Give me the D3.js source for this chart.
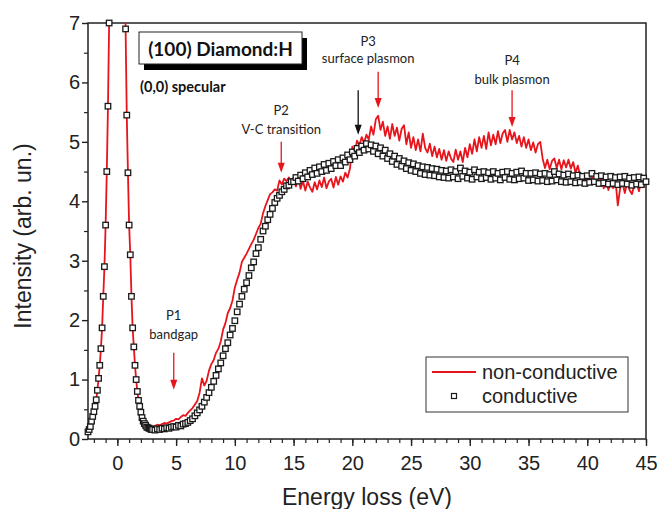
<!DOCTYPE html>
<html>
<head>
<meta charset="utf-8">
<script src="https://cdn.jsdelivr.net/npm/d3@7"></script>
<style>
  body { margin: 0; background: #fff; }
  svg { display: block; }
</style>
</head>
<body>
<div id="chart"></div>
<script>
// energy grid: fine steps over the elastic peak, coarser afterwards
const peakStart = -2.5, peakStep = 0.1   // -2.5 .. 2.9 eV
const tailStart = 3.0, tailStep = 0.2    // 3.0 .. 45.0 eV

// conductive (squares)
const condPeak = [
    0.12, 0.16, 0.21, 0.30, 0.38, 0.46, 0.55, 0.66, 0.82, 1.02,
    1.24, 1.52, 1.87, 2.40, 2.90, 3.60, 4.50, 5.60, 7.00, 9.2,
    12.5, 17, 22, 27, 31, 33, 31, 27, 21, 15.5,
    11.5, 8.6, 6.9, 5.45, 4.48, 3.60, 3.10, 2.40, 1.87, 1.55,
    1.24, 1.00, 0.80, 0.65, 0.55, 0.45, 0.36, 0.30, 0.26, 0.23,
    0.20, 0.19, 0.18, 0.17, 0.16
]
const condTail = [
    0.16, 0.15, 0.17, 0.16, 0.18, 0.17, 0.19, 0.18, 0.20, 0.21,
    0.20, 0.23, 0.22, 0.25, 0.26, 0.28, 0.31, 0.34, 0.39, 0.44,
    0.49, 0.55, 0.62, 0.70, 0.78, 0.87, 0.97, 1.07, 1.18, 1.28,
    1.40, 1.52, 1.62, 1.75, 1.86, 1.99, 2.14, 2.27, 2.40, 2.52,
    2.63, 2.75, 2.88, 2.98, 3.12, 3.22, 3.36, 3.50, 3.58, 3.69,
    3.78, 3.88, 3.98, 4.05, 4.10, 4.16, 4.20, 4.26, 4.27, 4.33,
    4.33, 4.40, 4.34, 4.44, 4.38, 4.48, 4.41, 4.52, 4.45, 4.56,
    4.47, 4.58, 4.50, 4.62, 4.52, 4.64, 4.55, 4.67, 4.60, 4.70,
    4.60, 4.73, 4.66, 4.78, 4.70, 4.83, 4.76, 4.89, 4.82, 4.93,
    4.86, 4.97, 4.88, 4.95, 4.84, 4.93, 4.80, 4.90, 4.76, 4.86,
    4.72, 4.80, 4.67, 4.76, 4.62, 4.72, 4.59, 4.68, 4.55, 4.65,
    4.52, 4.63, 4.50, 4.60, 4.47, 4.58, 4.45, 4.57, 4.44, 4.55,
    4.43, 4.54, 4.41, 4.52, 4.40, 4.51, 4.39, 4.53, 4.41, 4.50,
    4.38, 4.56, 4.42, 4.51, 4.39, 4.49, 4.37, 4.53, 4.41, 4.49,
    4.38, 4.50, 4.40, 4.48, 4.37, 4.50, 4.39, 4.47, 4.36, 4.49,
    4.40, 4.50, 4.37, 4.47, 4.36, 4.49, 4.38, 4.51, 4.39, 4.47,
    4.35, 4.47, 4.36, 4.48, 4.34, 4.46, 4.35, 4.47, 4.33, 4.45,
    4.34, 4.50, 4.36, 4.46, 4.33, 4.44, 4.32, 4.46, 4.33, 4.43,
    4.31, 4.44, 4.32, 4.42, 4.30, 4.43, 4.32, 4.47, 4.33, 4.42,
    4.30, 4.43, 4.31, 4.41, 4.29, 4.42, 4.30, 4.40, 4.28, 4.41,
    4.30, 4.42, 4.29, 4.39, 4.27, 4.40, 4.29, 4.41, 4.28, 4.39,
    4.33
]

// non-conductive (red line)
const nonCondPeak = [
    0.10, 0.15, 0.21, 0.30, 0.38, 0.46, 0.55, 0.66, 0.82, 1.02,
    1.24, 1.52, 1.87, 2.40, 2.90, 3.60, 4.50, 5.60, 7.00, 9.2,
    12.5, 17, 22, 27, 31, 33, 31, 27, 21, 15.5,
    11.5, 8.6, 6.9, 5.45, 4.48, 3.60, 3.10, 2.40, 1.87, 1.55,
    1.24, 1.00, 0.80, 0.65, 0.55, 0.45, 0.37, 0.31, 0.27, 0.25,
    0.23, 0.22, 0.21, 0.21, 0.20
]
const nonCondTail = [
    0.21, 0.22, 0.24, 0.23, 0.25, 0.27, 0.26, 0.28, 0.30, 0.31,
    0.34, 0.33, 0.37, 0.40, 0.39, 0.44, 0.48, 0.52, 0.58, 0.64,
    0.78, 1.02, 0.90, 0.98, 1.15, 1.26, 1.33, 1.45, 1.52, 1.64,
    1.84, 1.95, 2.12, 2.20, 2.33, 2.55, 2.68, 2.80, 2.98, 3.05,
    3.12, 3.20, 3.28, 3.35, 3.45, 3.55, 3.62, 3.80, 3.92, 4.02,
    4.12, 4.15, 4.20, 4.18, 4.35, 4.28, 4.38, 4.34, 4.40, 4.32,
    4.40, 4.25, 4.37, 4.21, 4.34, 4.18, 4.33, 4.23, 4.16, 4.32,
    4.20, 4.35, 4.24, 4.40, 4.22, 4.33, 4.38, 4.23, 4.41, 4.28,
    4.42, 4.33, 4.48, 4.40, 4.55, 4.92, 4.82, 5.02, 4.94, 5.08,
    4.98, 5.12, 5.04, 5.26, 5.12, 5.38, 5.44, 5.20, 5.34, 5.10,
    5.26, 5.05, 5.30, 5.10, 5.24, 5.02, 5.22, 5.28, 4.96, 5.16,
    4.90, 5.08, 4.86, 5.04, 4.84, 5.14, 4.90, 4.82, 4.97, 4.76,
    4.92, 4.74, 4.88, 4.70, 4.86, 4.68, 4.84, 4.72, 4.66, 4.87,
    4.70, 4.84, 4.66, 4.90, 4.74, 4.96, 4.80, 5.04, 4.84, 5.08,
    4.90, 5.10, 4.88, 5.16, 4.94, 5.12, 4.96, 5.18, 4.98, 5.14,
    5.20, 5.00, 5.20, 5.04, 5.16, 4.98, 5.10, 4.92, 5.08, 4.90,
    5.04, 4.86, 4.99, 4.82, 4.96, 5.00, 4.72, 4.56, 4.70, 4.54,
    4.68, 4.72, 4.56, 4.70, 4.54, 4.69, 4.57, 4.70, 4.55, 4.66,
    4.48, 4.60, 4.42, 4.46, 4.32, 4.43, 4.29, 4.41, 4.31, 4.43,
    4.26, 4.39, 4.22, 4.35, 4.19, 4.33, 4.22, 4.36, 3.93, 4.22,
    4.30, 4.14, 4.33, 4.19, 4.12, 4.27, 4.31, 4.17, 4.35, 4.24,
    4.30
]

const xTicks = [0, 5, 10, 15, 20, 25, 30, 35, 40, 45]
const yTicks = [0, 1, 2, 3, 4, 5, 6, 7]

// annotations: energy of the arrow, label lines, arrow top/tip intensities
const notes = [
    { e: 4.8, lines: ["P1", "bandgap"], ly: [2.0, 1.68], from: 1.45, to: 0.83, color: "#e8141c" },
    { e: 13.95, lines: ["P2", "V-C transition"], ly: [5.45, 5.14], from: 5.0, to: 4.48, color: "#e8141c" },
    { e: 22.2, lines: [], ly: [], from: 6.18, to: 5.57, color: "#e8141c" },
    { e: 20.5, lines: [], ly: [], from: 5.87, to: 5.12, color: "#111" },
    { e: 33.6, lines: ["P4", "bulk plasmon"], ly: [6.29, 5.98], from: 5.87, to: 5.25, color: "#e8141c" }
]
const p3Label = { e: 21.35, lines: ["P3", "surface plasmon"], ly: [6.62, 6.33] }

const toPoints = (peak, tail) =>
    peak.map((v, i) => ({ e: +(peakStart + i * peakStep).toFixed(2), v: v }))
        .concat(tail.map((v, i) => ({ e: +(tailStart + i * tailStep).toFixed(2), v: v })))

const cond = toPoints(condPeak, condTail)
const nonCond = toPoints(nonCondPeak, nonCondTail)

const width = 657, height = 509
const margin = { top: 23, right: 11, bottom: 70, left: 88 }
const axisFont = "'Liberation Sans', Arial, sans-serif"
const noteFont = "Lato, 'Open Sans', sans-serif"
const red = "#e8141c"

const svg = d3.select("#chart").append("svg")
    .attr("width", width)
    .attr("height", height)
    .attr("viewBox", [0, 0, width, height])

const x = d3.scaleLinear().domain([-2.5, 45]).range([margin.left, width - margin.right])
const y = d3.scaleLinear().domain([0, 7]).range([height - margin.bottom, margin.top])

svg.append("defs").append("clipPath").attr("id", "plot")
    .append("rect")
    .attr("x", margin.left).attr("y", margin.top)
    .attr("width", x.range()[1] - margin.left)
    .attr("height", y.range()[0] - margin.top)

// minor ticks
svg.append("g")
    .attr("transform", `translate(0,${y(0)})`)
    .call(d3.axisBottom(x).tickValues(d3.range(-2, 46, 1)).tickSize(4).tickFormat(""))
    .call(g => g.select(".domain").remove())
    .call(g => g.selectAll("line").attr("stroke", "#222").attr("stroke-width", 1.2))
svg.append("g")
    .attr("transform", `translate(${margin.left},0)`)
    .call(d3.axisLeft(y).tickValues(d3.range(0.5, 7, 1)).tickSize(4).tickFormat(""))
    .call(g => g.select(".domain").remove())
    .call(g => g.selectAll("line").attr("stroke", "#222").attr("stroke-width", 1.2))

// major ticks and labels
svg.append("g")
    .attr("transform", `translate(0,${y(0)})`)
    .call(d3.axisBottom(x).tickValues(xTicks).tickSize(7).tickPadding(10).tickFormat(d3.format("d")))
    .call(g => g.select(".domain").remove())
    .call(g => g.selectAll("line").attr("stroke", "#222").attr("stroke-width", 1.4))
    .call(g => g.selectAll("text").attr("font-family", axisFont).attr("font-size", 20).attr("fill", "#222"))
svg.append("g")
    .attr("transform", `translate(${margin.left},0)`)
    .call(d3.axisLeft(y).tickValues(yTicks).tickSize(6).tickPadding(2).tickFormat(d3.format("d")))
    .call(g => g.select(".domain").remove())
    .call(g => g.selectAll("line").attr("stroke", "#222").attr("stroke-width", 1.4))
    .call(g => g.selectAll("text").attr("font-family", axisFont).attr("font-size", 20).attr("fill", "#222"))

// frame
svg.append("rect")
    .attr("x", margin.left).attr("y", margin.top)
    .attr("width", x.range()[1] - margin.left)
    .attr("height", y.range()[0] - margin.top)
    .attr("fill", "none")
    .attr("stroke", "#222")
    .attr("stroke-width", 1.5)

// axis titles
svg.append("text")
    .attr("x", (margin.left + x.range()[1]) / 2)
    .attr("y", 505)
    .attr("text-anchor", "middle")
    .attr("font-family", axisFont).attr("font-size", 23).attr("fill", "#222")
    .text("Energy loss (eV)")
svg.append("text")
    .attr("transform", `translate(31,${(margin.top + y.range()[0]) / 2 + 5}) rotate(-90)`)
    .attr("text-anchor", "middle")
    .attr("font-family", axisFont).attr("font-size", 23).attr("fill", "#222")
    .text("Intensity (arb. un.)")

// red line
svg.append("path")
    .datum(nonCond)
    .attr("clip-path", "url(#plot)")
    .attr("fill", "none")
    .attr("stroke", red)
    .attr("stroke-width", 1.8)
    .attr("stroke-linejoin", "round")
    .attr("d", d3.line().x(d => x(d.e)).y(d => y(d.v)))

// squares
const sq = 5.5
svg.append("g")
    .selectAll("rect")
    .data(cond.filter(d => d.v <= 7.05))
    .join("rect")
    .attr("x", d => x(d.e) - sq / 2)
    .attr("y", d => y(d.v) - sq / 2)
    .attr("width", sq)
    .attr("height", sq)
    .attr("fill", "#fff")
    .attr("stroke", "#1a1a1a")
    .attr("stroke-width", 1.3)

// annotation arrows and labels
const drawLabel = n => {
    n.lines.forEach((t, i) => {
        svg.append("text")
            .attr("x", x(n.e))
            .attr("y", y(n.ly[i]))
            .attr("text-anchor", "middle")
            .attr("font-family", noteFont)
            .attr("font-size", 13)
            .attr("fill", "#222")
            .text(t)
    })
}
notes.forEach(n => {
    const ax = x(n.e), y1 = y(n.from), y2 = y(n.to)
    svg.append("line")
        .attr("x1", ax).attr("x2", ax)
        .attr("y1", y1).attr("y2", y2 - 8)
        .attr("stroke", n.color)
        .attr("stroke-width", 1.3)
    svg.append("path")
        .attr("d", `M${ax - 3.5},${y2 - 10}L${ax + 3.5},${y2 - 10}L${ax},${y2}Z`)
        .attr("fill", n.color)
    drawLabel(n)
})
drawLabel(p3Label)

// title box with shadow
const box = { x: 139, y: 32, w: 163, h: 32 }
svg.append("rect")
    .attr("x", box.x + 5).attr("y", box.y + 6)
    .attr("width", box.w).attr("height", box.h)
    .attr("fill", "#000")
svg.append("rect")
    .attr("x", box.x).attr("y", box.y)
    .attr("width", box.w).attr("height", box.h)
    .attr("fill", "#fff")
    .attr("stroke", "#222")
    .attr("stroke-width", 1)
svg.append("text")
    .attr("x", box.x + box.w / 2)
    .attr("y", box.y + 24)
    .attr("text-anchor", "middle")
    .attr("font-family", noteFont)
    .attr("font-weight", "bold")
    .attr("font-size", 19)
    .attr("fill", "#111")
    .text("(100) Diamond:H")
svg.append("text")
    .attr("x", 140)
    .attr("y", 92)
    .attr("font-family", noteFont)
    .attr("font-weight", "bold")
    .attr("font-size", 14.5)
    .attr("fill", "#111")
    .text("(0,0) specular")

// legend
const lg = svg.append("g")
lg.append("rect")
    .attr("x", 426).attr("y", 357)
    .attr("width", 202).attr("height", 55)
    .attr("fill", "#fff")
    .attr("stroke", "#333")
    .attr("stroke-width", 1)
lg.append("line")
    .attr("x1", 432).attr("x2", 476)
    .attr("y1", 372).attr("y2", 372)
    .attr("stroke", red)
    .attr("stroke-width", 2)
lg.append("rect")
    .attr("x", 454 - 2.5).attr("y", 396 - 2.5)
    .attr("width", 5).attr("height", 5)
    .attr("fill", "#fff")
    .attr("stroke", "#1a1a1a")
    .attr("stroke-width", 1.2)
lg.selectAll("text.lg")
    .data(["non-conductive", "conductive"])
    .join("text")
    .attr("x", 482)
    .attr("y", (d, i) => 379 + i * 24)
    .attr("font-family", axisFont)
    .attr("font-size", 20)
    .attr("fill", "#222")
    .text(d => d)
</script>
</body>
</html>
